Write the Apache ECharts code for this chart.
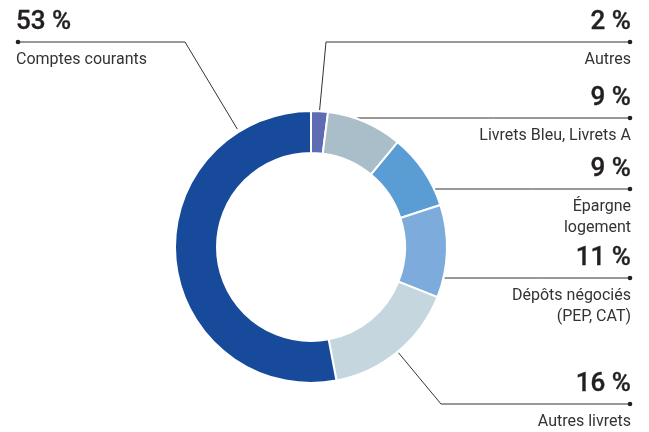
<!DOCTYPE html>
<html>
<head>
<meta charset="utf-8">
<script src="https://cdn.jsdelivr.net/npm/echarts@6/dist/echarts.min.js"></script>
<style>html,body{margin:0;padding:0;background:#fff;}#c{width:649px;height:432px;}</style>
</head>
<body>
<div id="c"></div>
<script>
// ---- data ----
const categories = ['Autres', 'Livrets Bleu, Livrets A', 'Épargne\nlogement', 'Dépôts négociés\n(PEP, CAT)', 'Autres livrets', 'Comptes courants'];
const values = [2, 9, 9, 11, 16, 53];
const percentLabels = ['2 %', '9 %', '9 %', '11 %', '16 %', '53 %'];

// ---- style / layout ----
const colors = ['#5e6db3', '#a9bec8', '#5a9cd4', '#7dacdc', '#c6d6df', '#174a9b'];
const CX = 311, CY = 247, R_IN = 94, R_OUT = 136;
const RIGHT_X = 631, LEFT_X = 16, DOT_R = 630, DOT_L = 18;
// label line layout for each slice (side, y of horizontal rule, optional angle & elbow)
const labelSpec = [
  {side: 'right', lineY: 42, elbowX: 326},
  {side: 'right', lineY: 118},
  {side: 'right', lineY: 189},
  {side: 'right', lineY: 278},
  {side: 'right', lineY: 404, elbowX: 441},
  {side: 'left', lineY: 42, angle: 328, elbowX: 185, r: 139}
];

const total = values.reduce((a, b) => a + b, 0);
const midAngles = [];
let acc = 0;
values.forEach(v => { midAngles.push((acc + v / 2) / total * 360); acc += v; });

function pt(angleDeg, r) {
  const a = angleDeg * Math.PI / 180;
  return [CX + r * Math.sin(a), CY - r * Math.cos(a)];
}

const chart = echarts.init(document.getElementById('c'), null, {renderer: 'canvas'});

const data = values.map((v, i) => {
  const s = labelSpec[i];
  const al = s.side === 'right' ? 'right' : 'left';
  return {
    value: v,
    name: categories[i],
    itemStyle: {color: colors[i]},
    label: {
      align: al,
      rich: {
        p: {fontFamily: 'Roboto', fontSize: 26, fontWeight: 500, color: '#231f20', lineHeight: 32, align: al,
            textBorderColor: '#231f20', textBorderWidth: 0.35},
        s: {fontSize: 4, lineHeight: 11, align: al},
        n: {fontFamily: 'Roboto', fontSize: 16, color: '#333333', lineHeight: 21, align: al}
      }
    }
  };
});

chart.setOption({
  animation: false,
  backgroundColor: '#ffffff',
  series: [{
    type: 'pie',
    center: [CX, CY],
    radius: [R_IN, R_OUT],
    startAngle: 90,
    clockwise: true,
    avoidLabelOverlap: false,
    itemStyle: {borderColor: '#ffffff', borderWidth: 2},
    emphasis: {disabled: true},
    label: {
      show: true,
      position: 'outside',
      formatter: p => {
        const idx = p.dataIndex;
        const nameLines = categories[idx].split('\n').map(t => '{n|' + t + '}').join('\n');
        return '{p|' + percentLabels[idx] + '}\n{s| }\n' + nameLines;
      }
    },
    labelLine: {show: true, lineStyle: {color: '#333333', width: 1}},
    labelLayout: function (params) {
      const i = params.dataIndex;
      const s = labelSpec[i];
      const endX = s.side === 'right' ? DOT_R : DOT_L;
      let pts;
      if (s.elbowX !== undefined) {
        const ang = s.angle !== undefined ? s.angle : midAngles[i];
        const start = pt(ang, s.r || 137);
        pts = [start, [s.elbowX, s.lineY], [endX, s.lineY]];
      } else {
        const dy = s.lineY - CY;
        const rx = Math.sqrt(137 * 137 - dy * dy);
        const sx = s.side === 'right' ? CX + rx : CX - rx;
        pts = [[sx, s.lineY], [(sx + endX) / 2, s.lineY], [endX, s.lineY]];
      }
      return {
        x: s.side === 'right' ? RIGHT_X : LEFT_X,
        y: s.lineY - 36,
        align: s.side === 'right' ? 'right' : 'left',
        verticalAlign: 'top',
        labelLinePoints: pts
      };
    },
    data: data
  }],
  graphic: labelSpec.map(s => ({
    type: 'circle',
    shape: {cx: s.side === 'right' ? DOT_R : DOT_L, cy: s.lineY, r: 2.3},
    style: {fill: '#222222'},
    z: 10
  }))
});
</script>
</body>
</html>
